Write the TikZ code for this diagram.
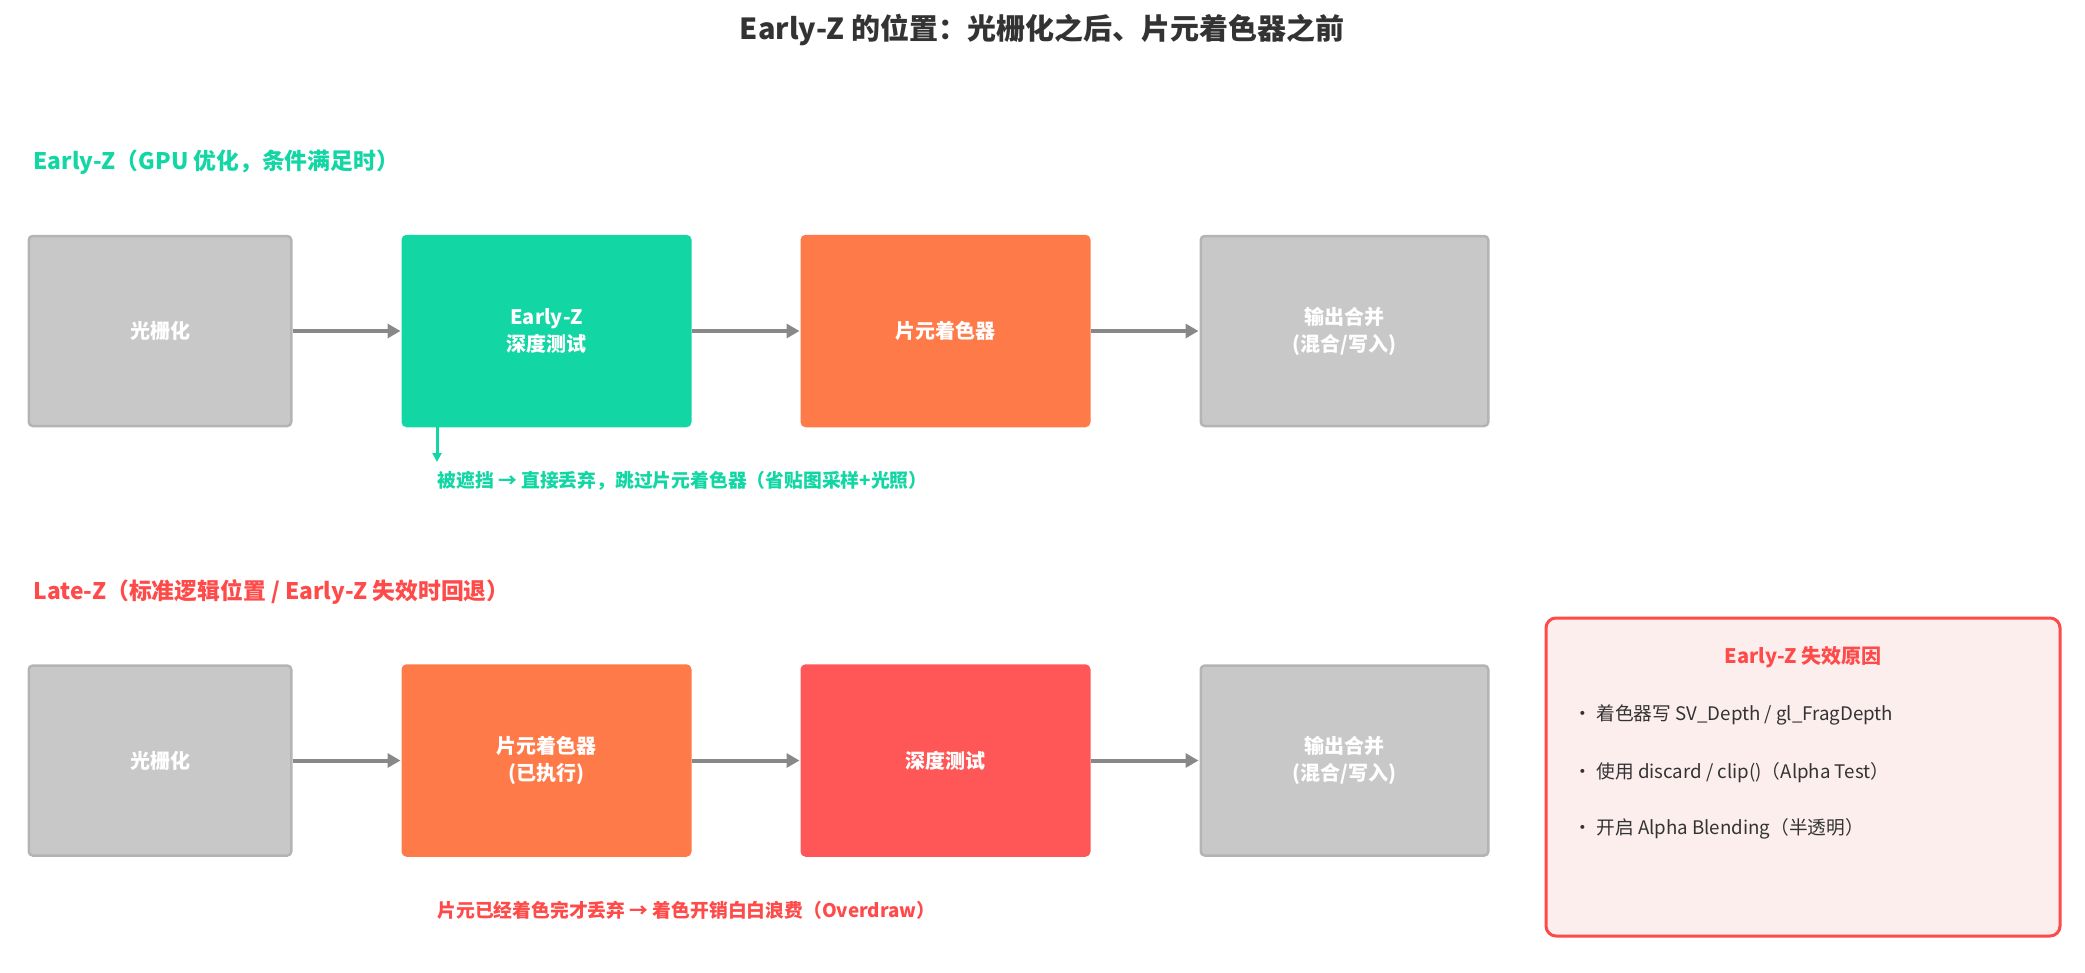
\documentclass[tikz,border=0pt]{standalone}
\usepackage{fontspec}
\setmainfont{Noto Sans CJK SC}
\usetikzlibrary{positioning, arrows.meta}
\definecolor{earlyz}{HTML}{12D6A3}
\definecolor{latez}{HTML}{FF4A4A}
\definecolor{shader}{HTML}{FF7A49}
\definecolor{depthred}{HTML}{FF5757}
\definecolor{fixedgray}{HTML}{C8C8C8}
\definecolor{fixedline}{HTML}{B4B4B4}
\definecolor{arrowgray}{HTML}{888888}
\definecolor{notefill}{HTML}{FDEEEE}
\definecolor{ink}{HTML}{333333}

\begin{document}
\begin{tikzpicture}[x=1pt, y=1pt,
    stage/.style={draw, line width=2.5pt, rounded corners=4pt, minimum width=287.5pt, minimum height=190pt,
        align=center, text=white, font=\bfseries\fontsize{20}{27}\selectfont},
    fixed/.style={stage, fill=fixedgray, draw=fixedline, minimum width=262.5pt},
    flow/.style={-{Triangle[length=13pt, width=14pt]}, line width=4pt, arrowgray, shorten >=1pt},
    section/.style={anchor=west, font=\bfseries\fontsize{22.8}{26}\selectfont},
    remark/.style={anchor=west, font=\bfseries\fontsize{18.8}{22}\selectfont},
    bullet/.style={anchor=west, text=ink, font=\fontsize{18.7}{22}\selectfont},
]
\useasboundingbox (0,0) rectangle (2085,-972);

% Title
\node[text=ink, font=\bfseries\fontsize{29}{34}\selectfont] (title) at (1042,-30) {Early-Z 的位置：光栅化之后、片元着色器之前};

% Row 1: Early-Z
\node[section, text=earlyz] (earlyhead) at (30,-162) {Early-Z（GPU 优化，条件满足时）};

\node[fixed] (e1) at (160,-331) {光栅化};
\node[stage, fill=earlyz, draw=earlyz, right=109pt of e1] (e2) {Early-Z\\深度测试};
\node[stage, fill=shader, draw=shader, right=109pt of e2] (e3) {片元着色器};
\node[fixed, minimum width=287.5pt, right=109pt of e3] (e4) {输出合并\\(混合/写入)};

\draw[flow] (e1) -- (e2);
\draw[flow] (e2) -- (e3);
\draw[flow] (e3) -- (e4);

\coordinate (cull) at (437,-462);
\draw[-{Triangle[length=9pt, width=9pt]}, line width=3pt, earlyz] (e2.south -| cull) -- (cull);
\node[remark, text=earlyz] (culltext) at (434,-481) {被遮挡 → 直接丢弃，跳过片元着色器（省贴图采样+光照）};

% Row 2: Late-Z
\node[section, text=latez] (latehead) at (30,-592) {Late-Z（标准逻辑位置 / Early-Z 失效时回退）};

\node[fixed] (l1) at (160,-760.5) {光栅化};
\node[stage, fill=shader, draw=shader, right=109pt of l1] (l2) {片元着色器\\(已执行)};
\node[stage, fill=depthred, draw=depthred, right=109pt of l2] (l3) {深度测试};
\node[fixed, minimum width=287.5pt, right=109pt of l3] (l4) {输出合并\\(混合/写入)};

\draw[flow] (l1) -- (l2);
\draw[flow] (l2) -- (l3);
\draw[flow] (l3) -- (l4);

\node[remark, text=latez] (wastetext) at (434,-910) {片元已经着色完才丢弃 → 着色开销白白浪费（Overdraw）};

% Side note: why Early-Z fails
\node[draw=latez, fill=notefill, line width=3pt, rounded corners=10pt, minimum width=514pt, minimum height=318pt] (why) at (1803,-777) {};
\node[text=latez, font=\bfseries\fontsize{20}{24}\selectfont] (whyhead) at (why.center |- 0,-657) {Early-Z 失效原因};
\node[bullet] (why1) at (1570,-715) {• 着色器写 SV\_Depth / gl\_FragDepth};
\node[bullet] (why2) at (1570,-773) {• 使用 discard / clip()（Alpha Test）};
\node[bullet] (why3) at (1570,-829) {• 开启 Alpha Blending（半透明）};

\end{tikzpicture}
\end{document}
